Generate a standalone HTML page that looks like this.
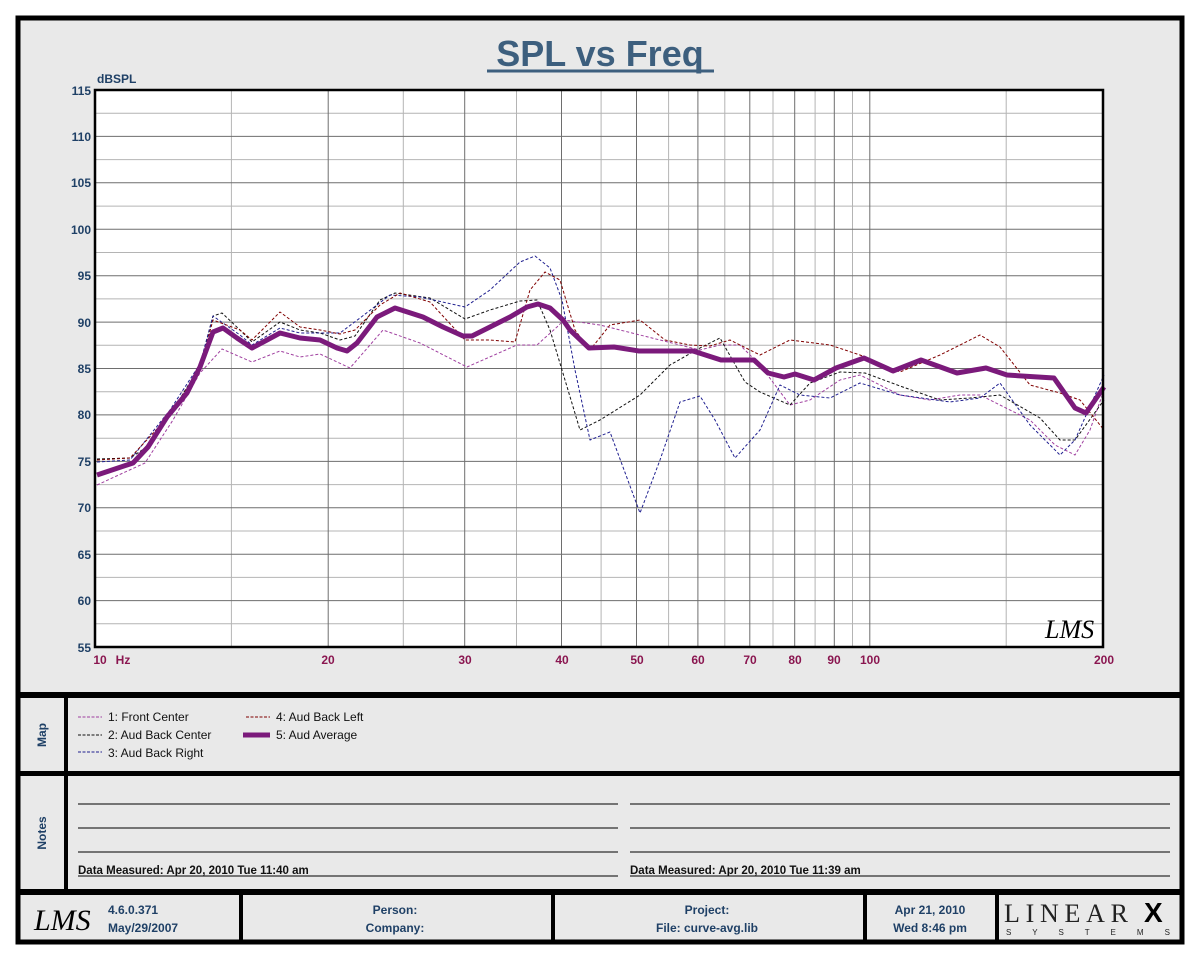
<!DOCTYPE html>
<html><head><meta charset="utf-8"><style>
html,body{margin:0;padding:0;background:#fff;}
svg{display:block;font-family:"Liberation Sans",Arial,sans-serif;}
</style></head><body>
<svg width="1200" height="960" viewBox="0 0 1200 960" xmlns="http://www.w3.org/2000/svg">
<rect x="0" y="0" width="1200" height="960" fill="#fff"/>
<rect x="18" y="18" width="1164" height="924" fill="#e9e9e9" stroke="#000" stroke-width="5"/>
<!-- title -->
<text x="600" y="66" text-anchor="middle" font-size="36" font-weight="bold" fill="#3d5f7e">SPL vs Freq</text>
<line x1="487" y1="71" x2="714" y2="71" stroke="#3d5f7e" stroke-width="3"/>
<text x="97" y="83" font-size="12" font-weight="bold" fill="#1f4066">dBSPL</text>
<!-- plot -->
<rect x="95" y="90" width="1008" height="557" fill="#fff"/>
<g stroke="#b4b4b4" stroke-width="1">
<line x1="95" x2="1103" y1="113.2" y2="113.2"/><line x1="95" x2="1103" y1="159.6" y2="159.6"/><line x1="95" x2="1103" y1="206.1" y2="206.1"/><line x1="95" x2="1103" y1="252.5" y2="252.5"/><line x1="95" x2="1103" y1="298.9" y2="298.9"/><line x1="95" x2="1103" y1="345.3" y2="345.3"/><line x1="95" x2="1103" y1="391.7" y2="391.7"/><line x1="95" x2="1103" y1="438.2" y2="438.2"/><line x1="95" x2="1103" y1="484.6" y2="484.6"/><line x1="95" x2="1103" y1="531" y2="531"/><line x1="95" x2="1103" y1="577.4" y2="577.4"/><line x1="95" x2="1103" y1="623.8" y2="623.8"/>
<line y1="90" y2="647" x1="231.4" x2="231.4"/><line y1="90" y2="647" x1="403.3" x2="403.3"/><line y1="90" y2="647" x1="516.5" x2="516.5"/><line y1="90" y2="647" x1="601.1" x2="601.1"/><line y1="90" y2="647" x1="668.6" x2="668.6"/><line y1="90" y2="647" x1="724.8" x2="724.8"/><line y1="90" y2="647" x1="773" x2="773"/><line y1="90" y2="647" x1="815.1" x2="815.1"/><line y1="90" y2="647" x1="852.5" x2="852.5"/><line y1="90" y2="647" x1="1006.2" x2="1006.2"/>
</g>
<g stroke="#6e6e6e" stroke-width="1">
<line x1="95" x2="1103" y1="136.4" y2="136.4"/><line x1="95" x2="1103" y1="182.8" y2="182.8"/><line x1="95" x2="1103" y1="229.3" y2="229.3"/><line x1="95" x2="1103" y1="275.7" y2="275.7"/><line x1="95" x2="1103" y1="322.1" y2="322.1"/><line x1="95" x2="1103" y1="368.5" y2="368.5"/><line x1="95" x2="1103" y1="414.9" y2="414.9"/><line x1="95" x2="1103" y1="461.4" y2="461.4"/><line x1="95" x2="1103" y1="507.8" y2="507.8"/><line x1="95" x2="1103" y1="554.2" y2="554.2"/><line x1="95" x2="1103" y1="600.6" y2="600.6"/>
<line y1="90" y2="647" x1="328.2" x2="328.2"/><line y1="90" y2="647" x1="464.7" x2="464.7"/><line y1="90" y2="647" x1="561.5" x2="561.5"/><line y1="90" y2="647" x1="636.5" x2="636.5"/><line y1="90" y2="647" x1="697.9" x2="697.9"/><line y1="90" y2="647" x1="749.8" x2="749.8"/><line y1="90" y2="647" x1="794.7" x2="794.7"/><line y1="90" y2="647" x1="834.3" x2="834.3"/><line y1="90" y2="647" x1="869.8" x2="869.8"/>
</g>
<!-- curves -->
<g fill="none" stroke-width="1" stroke-dasharray="3,2" stroke-linejoin="round">
<polyline stroke="#a040a0" points="97,485 123,473 145,463 173,420 200,373 222,349 252,362 280,351 300,357 320,354 350,368 383,330 420,343 467,367 517,345 537,345 557,327 564,320 600,325 640,335 680,345 700,350 720,345 740,345 760,365 790,405 810,400 840,380 860,375 900,395 930,400 960,395 980,395 1000,405 1030,420 1055,445 1075,455 1090,430 1104,390"/>
<polyline stroke="#111" points="97,459 130,458 150,445 170,415 200,366 213,316 222,313 240,330 252,342 280,322 300,330 320,333 340,340 355,336 380,300 395,293 430,298 465,319 490,310 520,301 537,300 550,330 565,380 580,430 600,420 640,395 670,365 700,348 720,338 745,382 760,392 790,405 810,383 840,372 865,373 900,386 940,400 970,398 1000,395 1040,418 1060,440 1075,440 1104,400"/>
<polyline stroke="#202090" points="97,462 130,460 170,410 200,364 213,316 240,335 252,345 280,328 300,333 340,333 360,318 390,295 420,297 465,307 490,290 520,262 535,256 550,268 562,300 575,370 590,440 610,432 640,513 660,460 680,402 700,396 715,420 735,458 760,430 780,385 800,395 830,398 860,383 900,395 950,402 980,398 1000,383 1030,425 1060,455 1075,440 1104,375"/>
<polyline stroke="#800000" points="97,460 130,458 170,415 200,368 213,320 240,330 252,340 280,312 300,327 320,330 340,334 355,330 380,305 400,293 430,302 465,340 490,340 515,342 530,290 545,272 560,280 575,330 590,350 610,325 640,320 665,340 690,345 710,346 730,340 760,355 790,340 830,345 860,355 900,372 940,355 980,335 1000,347 1030,385 1060,393 1080,400 1104,430"/>
</g>
<polyline fill="none" stroke="#7b1a7b" stroke-width="5" stroke-linejoin="round" points="97,475 133,463 148,447 167,417 187,393 200,367 213,332 223,328 237,338 252,348 267,340 280,333 300,338 320,340 337,348 347,351 357,343 377,317 395,308 423,317 443,327 463,336 472,336 490,327 510,317 527,307 538,304 550,308 563,320 570,330 589,348 614,347 639,351 693,351 721,360 736,360 754,360 768,373 784,377 795,374 814,380 836,368 864,358 893,371 921,360 957,373 986,368 1007,375 1054,378 1075,408 1086,413 1104,387"/>
<rect x="95" y="90" width="1008" height="557" fill="none" stroke="#000" stroke-width="2.5"/>
<text x="1045" y="638" font-family="'Liberation Serif',serif" font-style="italic" font-size="26" fill="#000">LMS</text>
<!-- y labels -->
<g font-size="12" font-weight="bold" fill="#1f4066" text-anchor="end">
<text x="91" y="95">115</text><text x="91" y="141">110</text><text x="91" y="187">105</text><text x="91" y="234">100</text><text x="91" y="280">95</text><text x="91" y="327">90</text><text x="91" y="373">85</text><text x="91" y="419">80</text><text x="91" y="466">75</text><text x="91" y="512">70</text><text x="91" y="559">65</text><text x="91" y="605">60</text><text x="91" y="652">55</text>
</g>
<g font-size="12" font-weight="bold" fill="#8a1650" text-anchor="middle">
<text x="100" y="664">10</text><text x="123" y="664">Hz</text><text x="328" y="664">20</text><text x="465" y="664">30</text><text x="562" y="664">40</text><text x="637" y="664">50</text><text x="698" y="664">60</text><text x="750" y="664">70</text><text x="795" y="664">80</text><text x="834" y="664">90</text><text x="870" y="664">100</text><text x="1104" y="664">200</text>
</g>
<!-- section separators -->
<rect x="18" y="692" width="1164" height="6" fill="#000"/>
<rect x="18" y="771" width="1164" height="5" fill="#000"/>
<rect x="18" y="889" width="1164" height="6" fill="#000"/>
<rect x="64" y="696" width="4" height="195" fill="#000"/>
<text transform="translate(46,735) rotate(-90)" font-size="12" font-weight="bold" fill="#1f4066" text-anchor="middle">Map</text>
<text transform="translate(46,833) rotate(-90)" font-size="12" font-weight="bold" fill="#1f4066" text-anchor="middle">Notes</text>
<!-- legend -->
<g font-size="12" fill="#111">
<line x1="78" y1="717" x2="102" y2="717" stroke="#a040a0" stroke-dasharray="3,1.5"/><text x="108" y="721">1: Front Center</text>
<line x1="78" y1="735" x2="102" y2="735" stroke="#111" stroke-dasharray="3,1.5"/><text x="108" y="739">2: Aud Back Center</text>
<line x1="78" y1="752" x2="102" y2="752" stroke="#202090" stroke-dasharray="3,1.5"/><text x="108" y="757">3: Aud Back Right</text>
<line x1="246" y1="717" x2="270" y2="717" stroke="#800000" stroke-dasharray="3,1.5"/><text x="276" y="721">4: Aud Back Left</text>
<line x1="243" y1="735" x2="270" y2="735" stroke="#7b1a7b" stroke-width="5"/><text x="276" y="739">5: Aud Average</text>
</g>
<!-- notes -->
<g stroke="#000" stroke-width="1">
<line x1="78" y1="804" x2="618" y2="804"/><line x1="78" y1="828" x2="618" y2="828"/><line x1="78" y1="852" x2="618" y2="852"/><line x1="78" y1="876" x2="618" y2="876"/>
<line x1="630" y1="804" x2="1170" y2="804"/><line x1="630" y1="828" x2="1170" y2="828"/><line x1="630" y1="852" x2="1170" y2="852"/><line x1="630" y1="876" x2="1170" y2="876"/>
</g>
<g font-size="11.5" font-weight="bold" fill="#111">
<text x="78" y="874">Data Measured: Apr 20, 2010  Tue 11:40 am</text>
<text x="630" y="874">Data Measured: Apr 20, 2010  Tue 11:39 am</text>
</g>
<!-- footer -->
<g fill="#000">
<rect x="239" y="893" width="4" height="48"/><rect x="551" y="893" width="4" height="48"/><rect x="863" y="893" width="4" height="48"/><rect x="995" y="893" width="4" height="48"/>
</g>
<text x="34" y="930" font-family="'Liberation Serif',serif" font-style="italic" font-size="30" fill="#000">LMS</text>
<g font-size="12" font-weight="bold" fill="#1f4066">
<text x="108" y="914">4.6.0.371</text><text x="108" y="932">May/29/2007</text>
<text x="395" y="914" text-anchor="middle">Person:</text><text x="395" y="932" text-anchor="middle">Company:</text>
<text x="707" y="914" text-anchor="middle">Project:</text><text x="707" y="932" text-anchor="middle">File: curve-avg.lib</text>
<text x="930" y="914" text-anchor="middle">Apr 21, 2010</text><text x="930" y="932" text-anchor="middle">Wed  8:46 pm</text>
</g>
<text x="1004" y="922" font-family="'Liberation Serif',serif" font-size="26" fill="#222" letter-spacing="6" textLength="130">LINEAR</text>
<text x="1144" y="922" font-size="28" font-weight="bold" fill="#000">X</text>
<text x="1006" y="935" font-size="8" fill="#222" letter-spacing="1" textLength="165">S Y S T E M S</text>
</svg>
</body></html>
